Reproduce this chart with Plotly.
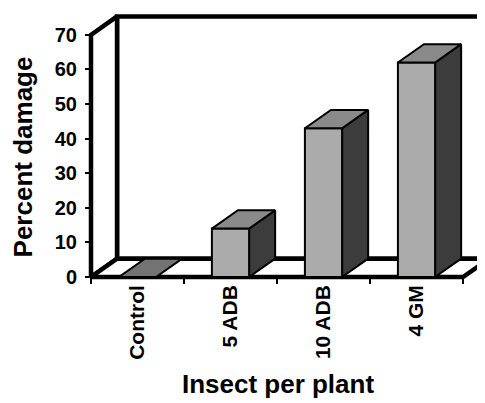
import plotly.graph_objects as go

# ---- data ----
categories = ["Control", "5 ADB", "10 ADB", "4 GM"]
damage = [0, 14, 43, 62]
y_tick_values = [0, 10, 20, 30, 40, 50, 60, 70]
y_tick_labels = ["0", "10", "20", "30", "40", "50", "60", "70"]

# ---- 3D-look geometry (data units) ----
BAR_W = 0.40      # bar width in category units
DX = 0.28         # depth offset along x
DY = 5.3          # depth offset along y
YMAX = 70

FONT = "Liberation Sans, Arial, sans-serif"
W, H = 485, 403
OFF = 8  # page body margin

fig = go.Figure()


def poly(xs, ys, fill, lw):
    fig.add_trace(go.Scatter(
        x=list(xs) + [xs[0]], y=list(ys) + [ys[0]],
        mode="lines", fill="toself", fillcolor=fill,
        line=dict(color="black", width=lw),
        hoverinfo="skip", showlegend=False))


n = len(categories)
left, right = -0.5, n - 0.5

# back wall
poly([left + DX, left + DX, right + DX, right + DX],
     [DY, YMAX + DY, YMAX + DY, DY], "white", 4.5)
# left side wall
poly([left, left, left + DX, left + DX],
     [0, YMAX, YMAX + DY, DY], "white", 4.5)
# floor
poly([left, right, right + DX, left + DX],
     [0, 0, DY, DY], "white", 4.5)

# bars
for i, v in enumerate(damage):
    x0, x1 = i - BAR_W / 2, i + BAR_W / 2
    if v > 0:
        poly([x1, x1 + DX, x1 + DX, x1], [0, DY, v + DY, v], "#3c3c3c", 2)
        poly([x0, x1, x1, x0], [0, 0, v, v], "#ababab", 2)
        poly([x0, x1, x1 + DX, x0 + DX], [v, v, v + DY, v + DY], "#8a8a8a", 2)
    else:
        poly([x0, x1, x1 + DX, x0 + DX], [v, v, v + DY, v + DY], "#737373", 2)

# pixel layout (screen coords): x=-0.5 at 91, 93 px/unit; y=0 at 277, 3.46 px/unit
XPX, X0PX = 93.0, 91
YPX, Y0PX = 3.46, 277
xs_left, xs_right = 63, W + OFF
ys_top, ys_bot = OFF, 306
x_range = [-0.5 - (X0PX - xs_left) / XPX, -0.5 + (xs_right - X0PX) / XPX]
y_range = [-(ys_bot - Y0PX) / YPX, (Y0PX - ys_top) / YPX]

fig.update_layout(
    width=W, height=H,
    margin=dict(l=0, r=0, t=0, b=0),
    paper_bgcolor="white", plot_bgcolor="rgba(0,0,0,0)",
    font=dict(family=FONT, color="black"),
    xaxis=dict(
        domain=[(xs_left - OFF) / W, 1.0],
        range=x_range,
        anchor="free", position=1 - (Y0PX - OFF) / H,
        showgrid=False, zeroline=False, showline=False,
        tickmode="array", tickvals=list(range(n)), ticktext=categories,
        tickangle=-90, ticks="", ticklabelstandoff=3,
        tickfont=dict(size=21, weight="bold", family=FONT),
        minor=dict(tickmode="array", tickvals=[k - 0.5 for k in range(n + 1)],
                   ticks="outside", ticklen=6, tickwidth=2, tickcolor="black"),
        title=dict(text="Insect per plant", standoff=15,
                   font=dict(size=26, weight="bold", family=FONT)),
        automargin=False, fixedrange=True,
    ),
    yaxis=dict(
        domain=[1 - (ys_bot - OFF) / H, 1.0],
        range=y_range,
        anchor="free", position=(X0PX - OFF) / W,
        showgrid=False, zeroline=False, showline=False,
        tickmode="array", tickvals=y_tick_values, ticktext=y_tick_labels,
        ticks="outside", ticklen=6, tickwidth=2, tickcolor="black",
        ticklabelstandoff=4,
        tickfont=dict(size=20, weight="bold", family=FONT),
        title=dict(text="Percent damage", standoff=13,
                   font=dict(size=26, weight="bold", family=FONT)),
        automargin=False, fixedrange=True,
    ),
)

fig.write_html("out.html")
